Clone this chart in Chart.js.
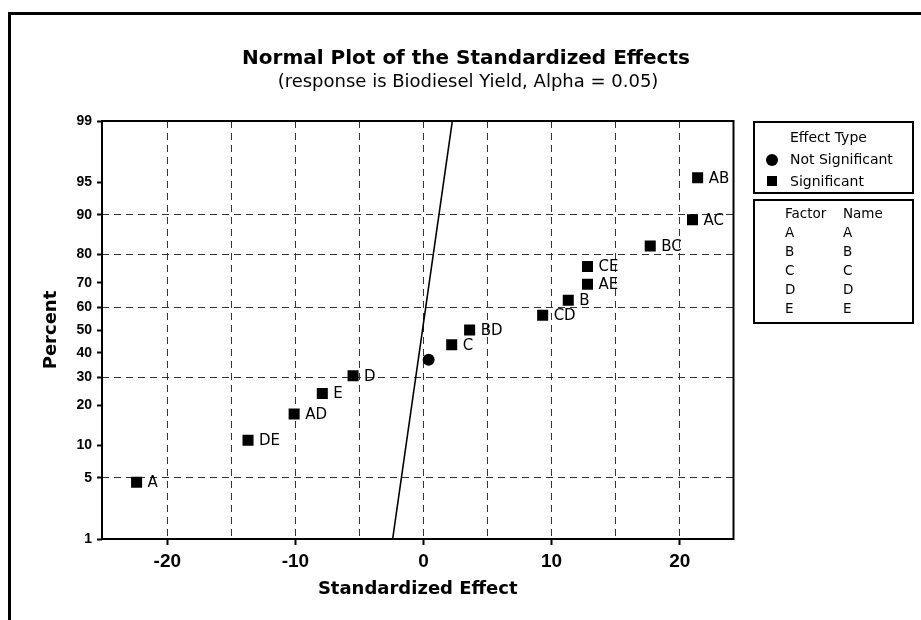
<!DOCTYPE html>
<html>
<head>
<meta charset="utf-8">
<script src="https://cdn.jsdelivr.net/npm/chart.js@4.4.1/dist/chart.umd.min.js"></script>
<style>
  html, body { margin: 0; padding: 0; background: #fff; }
  #wrap { position: relative; width: 921px; height: 620px; overflow: hidden; }
  canvas { position: absolute; left: 0; top: 0; }
</style>
</head>
<body>
<div id="wrap"><canvas id="c" width="921" height="620"></canvas></div>
<script>
// ---------- data ----------
const effectLabels   = ['A', 'DE', 'AD', 'E', 'D', 'BE', 'C', 'BD', 'CD', 'B', 'AE', 'CE', 'BC', 'AC', 'AB'];
const effectValues   = [-22.4, -13.7, -10.1, -7.9, -5.5, 0.4, 2.2, 3.6, 9.3, 11.3, 12.8, 12.8, 17.7, 21.0, 21.4];
const effectPercents = [4.5, 11.0, 17.5, 24.0, 30.5, 37.0, 43.5, 50.0, 56.5, 63.0, 69.5, 76.0, 82.5, 89.0, 95.5];
const effectSignificant = [true, true, true, true, true, false, true, true, true, true, true, true, true, true, true];

const fitLineEffects  = [-2.41, 2.25];
const fitLinePercents = [1, 99];

const yTickPercents   = [1, 5, 10, 20, 30, 40, 50, 60, 70, 80, 90, 95, 99];
const yGridPercents   = [5, 30, 60, 80, 90];
const xGridValues     = [-20, -15, -10, -5, 0, 5, 10, 15, 20];
const xLabelValues    = [-20, -10, 0, 10, 20];

const legendTypes   = ['Not Significant', 'Significant'];
const factorCodes   = ['A', 'B', 'C', 'D', 'E'];
const factorNames   = ['A', 'B', 'C', 'D', 'E'];

const titleText    = 'Normal Plot of the Standardized Effects';
const subtitleText = '(response is Biodiesel Yield, Alpha = 0.05)';

// ---------- inverse normal CDF (normal probability scale) ----------
function probit(p) {
  const a=[-3.969683028665376e+01,2.209460984245205e+02,-2.759285104469687e+02,1.383577518672690e+02,-3.066479806614716e+01,2.506628277459239e+00];
  const b=[-5.447609879822406e+01,1.615858368580409e+02,-1.556989798598866e+02,6.680131188771972e+01,-1.328068155288572e+01];
  const c=[-7.784894002430293e-03,-3.223964580411365e-01,-2.400758277161838e+00,-2.549732539343734e+00,4.374664141464968e+00,2.938163982698783e+00];
  const d=[7.784695709041462e-03,3.224671290700398e-01,2.445134137142996e+00,3.754408661907416e+00];
  const pl = 0.02425, ph = 1 - pl;
  let q, r;
  if (p < pl) { q = Math.sqrt(-2*Math.log(p)); return (((((c[0]*q+c[1])*q+c[2])*q+c[3])*q+c[4])*q+c[5])/((((d[0]*q+d[1])*q+d[2])*q+d[3])*q+1); }
  if (p <= ph) { q = p - 0.5; r = q*q; return (((((a[0]*r+a[1])*r+a[2])*r+a[3])*r+a[4])*r+a[5])*q/(((((b[0]*r+b[1])*r+b[2])*r+b[3])*r+b[4])*r+1); }
  q = Math.sqrt(-2*Math.log(1-p)); return -(((((c[0]*q+c[1])*q+c[2])*q+c[3])*q+c[4])*q+c[5])/((((d[0]*q+d[1])*q+d[2])*q+d[3])*q+1);
}
const pz = pct => probit(pct / 100);

// ---------- datasets ----------
const sigPoints = [], sigLabels = [], nsPoints = [];
effectValues.forEach((v, i) => {
  const pt = { x: v, y: pz(effectPercents[i]) };
  if (effectSignificant[i]) { sigPoints.push(pt); sigLabels.push(effectLabels[i]); }
  else nsPoints.push(pt);
});
const linePoints = fitLineEffects.map((v, i) => ({ x: v, y: pz(fitLinePercents[i]) }));

const FONT_TXT = '"DejaVu Sans", Verdana, sans-serif';

// ---------- plugins ----------
const decorPlugin = {
  id: 'decor',
  beforeDraw(chart) {
    const ctx = chart.ctx;
    ctx.save();
    ctx.fillStyle = '#fff';
    ctx.fillRect(0, 0, chart.width, chart.height);
    ctx.fillStyle = '#000';
    // outer graph frame (left and top edges)
    ctx.fillRect(8, 12, 3, 620);
    ctx.fillRect(8, 12, 921, 3);
    ctx.restore();
  },
  afterDatasetsDraw(chart) {
    const ctx = chart.ctx;
    const a = chart.chartArea;
    ctx.save();
    // plot frame
    ctx.strokeStyle = '#000';
    ctx.lineWidth = 2;
    ctx.strokeRect(a.left, a.top, a.right - a.left, a.bottom - a.top);
    // point labels
    const meta = chart.getDatasetMeta(0);
    ctx.fillStyle = '#000';
    ctx.font = '15px ' + FONT_TXT;
    ctx.textBaseline = 'middle';
    ctx.textAlign = 'left';
    meta.data.forEach((el, i) => {
      ctx.fillText(sigLabels[i], el.x + 11, el.y + 1);
    });
    ctx.restore();
  },
  afterDraw(chart) {
    const ctx = chart.ctx;
    ctx.save();
    ctx.fillStyle = '#000';
    ctx.textBaseline = 'middle';
    // titles
    ctx.textAlign = 'center';
    ctx.font = 'bold 20px ' + FONT_TXT;
    ctx.fillText(titleText, 466, 59);
    ctx.font = '18px ' + FONT_TXT;
    ctx.fillText(subtitleText, 468, 82);

    // legend box 1 : effect type
    ctx.strokeStyle = '#000';
    ctx.lineWidth = 2;
    ctx.strokeRect(754, 122, 159, 71);
    ctx.textAlign = 'left';
    ctx.font = '14px ' + FONT_TXT;
    ctx.fillText('Effect Type', 790, 138);
    ctx.fillText(legendTypes[0], 790, 160);
    ctx.fillText(legendTypes[1], 790, 182);
    ctx.beginPath();
    ctx.arc(772, 160, 6, 0, Math.PI * 2);
    ctx.fill();
    ctx.fillRect(767, 176, 10, 10);

    // legend box 2 : factor / name
    ctx.strokeRect(754, 200, 159, 123);
    ctx.font = '13.5px ' + FONT_TXT;
    ctx.fillText('Factor', 785, 214);
    ctx.fillText('Name', 843, 214);
    factorCodes.forEach((f, i) => {
      ctx.fillText(f, 785, 233 + i * 19.2);
      ctx.fillText(factorNames[i], 843, 233 + i * 19.2);
    });
    ctx.restore();
  }
};

const gridDash = [7, 5];

new Chart(document.getElementById('c'), {
  type: 'scatter',
  data: {
    datasets: [
      { label: 'Significant', data: sigPoints, pointStyle: 'rect', pointRadius: 7.8,
        backgroundColor: '#000', borderColor: '#000', borderWidth: 0, order: 1 },
      { label: 'Not Significant', data: nsPoints, pointStyle: 'circle', pointRadius: 6,
        backgroundColor: '#000', borderColor: '#000', borderWidth: 0, order: 2 },
      { label: 'fit', data: linePoints, showLine: true, pointRadius: 0,
        borderColor: '#000', borderWidth: 1.6, fill: false, order: 3 }
    ]
  },
  options: {
    responsive: false,
    animation: false,
    events: [],
    layout: { padding: { top: 121, right: 187.5, bottom: 0, left: 0 } },
    plugins: { legend: { display: false }, tooltip: { enabled: false }, title: { display: false } },
    scales: {
      x: {
        type: 'linear',
        min: -25.1, max: 24.2,
        afterFit(scale) { scale.height = 81; },
        afterBuildTicks(scale) { scale.ticks = xGridValues.map(v => ({ value: v })); },
        grid: {
          color: '#333', lineWidth: 1, drawTicks: true, tickLength: 6,
          tickColor: ctx => (ctx.tick && xLabelValues.includes(ctx.tick.value)) ? '#000' : 'rgba(0,0,0,0)',
          tickWidth: 2
        },
        border: { display: false, dash: gridDash },
        ticks: {
          autoSkip: false, maxRotation: 0, padding: 5,
          color: '#000',
          font: { family: '"Liberation Sans", Arial, sans-serif', size: 19, weight: 'bold' },
          callback: v => xLabelValues.includes(v) ? String(v) : ''
        },
        title: {
          display: true, text: 'Standardized Effect', color: '#000',
          font: { family: FONT_TXT, size: 18, weight: 'bold' },
          padding: { top: 0, bottom: 20 }
        }
      },
      y: {
        type: 'linear',
        min: pz(1), max: pz(99),
        afterFit(scale) { scale.width = 102; },
        afterBuildTicks(scale) { scale.ticks = yTickPercents.map(p => ({ value: pz(p) })); },
        grid: {
          color: ctx => (ctx.index !== undefined && yGridPercents.includes(yTickPercents[ctx.index])) ? '#333' : 'rgba(0,0,0,0)',
          lineWidth: 1, drawTicks: true, tickLength: 5, tickColor: '#000', tickWidth: 2
        },
        border: { display: false, dash: gridDash },
        ticks: {
          autoSkip: false, padding: 5, color: '#000',
          font: { family: '"Liberation Sans", Arial, sans-serif', size: 14, weight: 'bold' },
          callback: (v, i) => String(yTickPercents[i])
        },
        title: {
          display: true, text: 'Percent', color: '#000',
          font: { family: FONT_TXT, size: 18, weight: 'bold' },
          padding: { top: 41, bottom: 0 }
        }
      }
    }
  },
  plugins: [decorPlugin]
});
</script>
</body>
</html>
